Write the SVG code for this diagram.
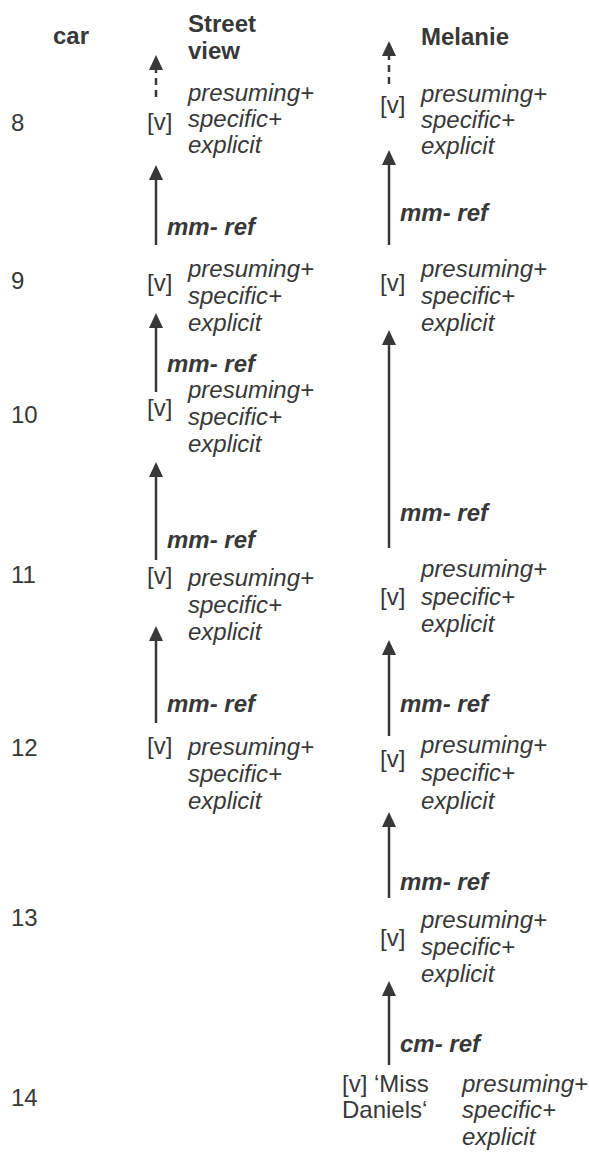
<svg xmlns="http://www.w3.org/2000/svg" width="589" height="1154" viewBox="0 0 589 1154">
  <defs>
    <style>
      text { font-family: "Liberation Sans", Arial, sans-serif; font-size: 24px; fill: #383838; }
      .hd { font-weight: bold; }
      .it { font-style: italic; }
      .rel { font-style: italic; font-weight: bold; }
      .ln { stroke: #383838; stroke-width: 2.5; fill: none; }
      .dash { stroke-dasharray: 7 5; }
    </style>
    <marker id="head" markerUnits="userSpaceOnUse" markerWidth="16" markerHeight="16" viewBox="0 -8 16 16" refX="0" refY="0" orient="auto">
      <path d="M0,-7 L15,0 L0,7 Z" fill="#383838"/>
    </marker>
  </defs>
  <rect width="589" height="1154" fill="#ffffff"/>

  <!-- column headings -->
  <g id="head-car"><text class="hd" x="53" y="44">car</text></g>
  <g id="head-street"><text class="hd" x="188" y="32">Street</text><text class="hd" x="188" y="59">view</text></g>
  <g id="head-melanie"><text class="hd" x="421" y="45">Melanie</text></g>

  <!-- sentence numbers -->
  <g id="rows">
    <text x="11" y="131">8</text>
    <text x="11" y="289">9</text>
    <text x="11" y="423">10</text>
    <text x="11" y="583">11</text>
    <text x="11" y="756">12</text>
    <text x="11" y="926">13</text>
    <text x="11" y="1106">14</text>
  </g>

  <!-- Street view chain -->
  <g id="sv8"><text x="147" y="130">[v]</text><text class="it" x="188" y="101">presuming+</text><text class="it" x="188" y="127">specific+</text><text class="it" x="188" y="153">explicit</text></g>
  <g id="sv9"><text x="147" y="291">[v]</text><text class="it" x="188" y="277">presuming+</text><text class="it" x="188" y="304">specific+</text><text class="it" x="188" y="331">explicit</text></g>
  <g id="sv10"><text x="147" y="416">[v]</text><text class="it" x="188" y="398">presuming+</text><text class="it" x="188" y="425">specific+</text><text class="it" x="188" y="452">explicit</text></g>
  <g id="sv11"><text x="147" y="584">[v]</text><text class="it" x="188" y="586">presuming+</text><text class="it" x="188" y="613">specific+</text><text class="it" x="188" y="640">explicit</text></g>
  <g id="sv12"><text x="147" y="754">[v]</text><text class="it" x="188" y="755">presuming+</text><text class="it" x="188" y="782">specific+</text><text class="it" x="188" y="809">explicit</text></g>

  <!-- Melanie chain -->
  <g id="mel8"><text x="380" y="113">[v]</text><text class="it" x="421" y="102">presuming+</text><text class="it" x="421" y="128">specific+</text><text class="it" x="421" y="154">explicit</text></g>
  <g id="mel9"><text x="380" y="291">[v]</text><text class="it" x="421" y="277">presuming+</text><text class="it" x="421" y="304">specific+</text><text class="it" x="421" y="331">explicit</text></g>
  <g id="mel11"><text x="380" y="605">[v]</text><text class="it" x="421" y="577">presuming+</text><text class="it" x="421" y="605">specific+</text><text class="it" x="421" y="632">explicit</text></g>
  <g id="mel12"><text x="380" y="767">[v]</text><text class="it" x="421" y="753">presuming+</text><text class="it" x="421" y="781">specific+</text><text class="it" x="421" y="809">explicit</text></g>
  <g id="mel13"><text x="380" y="946">[v]</text><text class="it" x="421" y="928">presuming+</text><text class="it" x="421" y="955">specific+</text><text class="it" x="421" y="982">explicit</text></g>
  <g id="mel14"><text x="342" y="1092">[v] ‘Miss</text><text x="342" y="1118">Daniels‘</text><text class="it" x="462" y="1092">presuming+</text><text class="it" x="462" y="1118">specific+</text><text class="it" x="462" y="1145">explicit</text></g>

  <!-- reference links -->
  <g id="connectors">
    <path class="ln dash" d="M156,97 V70" marker-end="url(#head)"/>
    <path class="ln" d="M156,245 V180" marker-end="url(#head)"/>
    <path class="ln" d="M156,392 V328" marker-end="url(#head)"/>
    <path class="ln" d="M156,560 V477" marker-end="url(#head)"/>
    <path class="ln" d="M156,723 V641" marker-end="url(#head)"/>

    <path class="ln dash" d="M389,84 V56" marker-end="url(#head)"/>
    <path class="ln" d="M389,245 V165" marker-end="url(#head)"/>
    <path class="ln" d="M389,548 V345" marker-end="url(#head)"/>
    <path class="ln" d="M389,736 V655" marker-end="url(#head)"/>
    <path class="ln" d="M389,898 V827" marker-end="url(#head)"/>
    <path class="ln" d="M389,1065 V996" marker-end="url(#head)"/>

    <text class="rel" x="167" y="235">mm- ref</text>
    <text class="rel" x="167" y="372">mm- ref</text>
    <text class="rel" x="167" y="548">mm- ref</text>
    <text class="rel" x="167" y="712">mm- ref</text>

    <text class="rel" x="400" y="221">mm- ref</text>
    <text class="rel" x="400" y="521">mm- ref</text>
    <text class="rel" x="400" y="712">mm- ref</text>
    <text class="rel" x="400" y="890">mm- ref</text>
    <text class="rel" x="400" y="1052">cm- ref</text>
  </g>
</svg>
